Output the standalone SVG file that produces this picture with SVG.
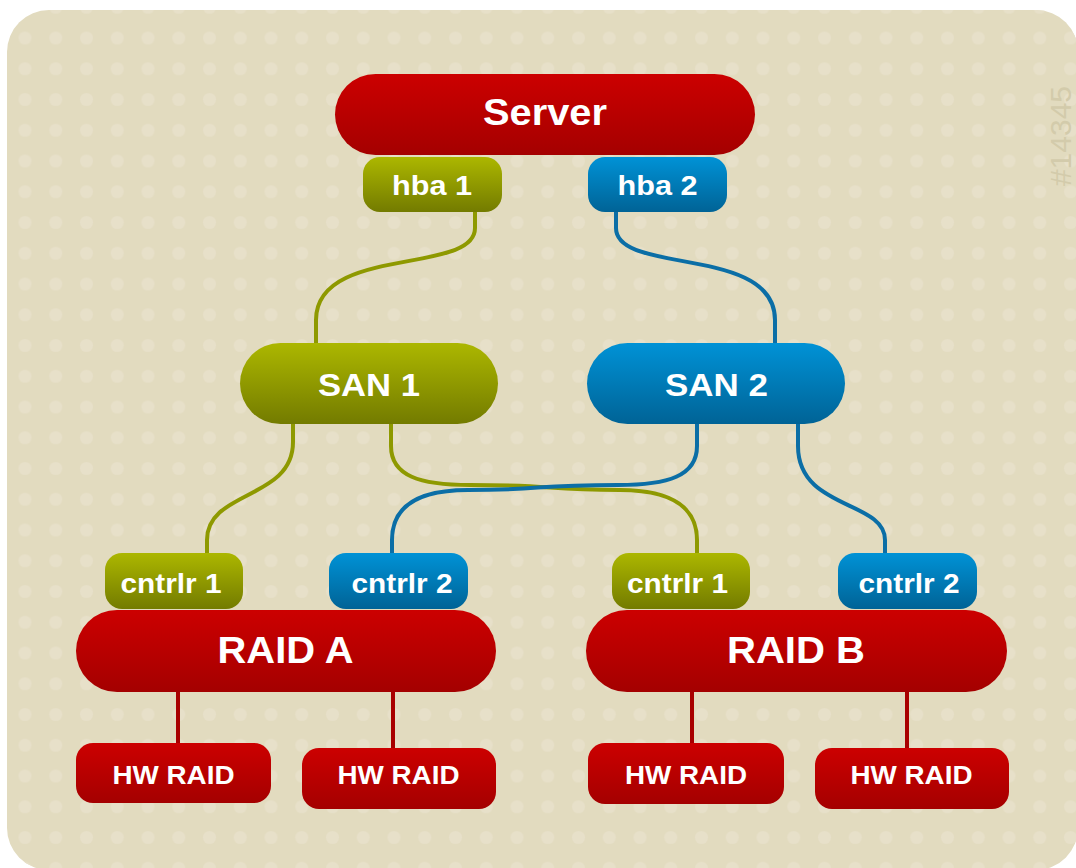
<svg xmlns="http://www.w3.org/2000/svg" width="1076" height="868" viewBox="0 0 1076 868">
  <defs>
    <linearGradient id="gRed" x1="0" y1="0" x2="0" y2="1">
      <stop offset="0" stop-color="#cc0000"/>
      <stop offset="1" stop-color="#a40000"/>
    </linearGradient>
    <linearGradient id="gGreen" x1="0" y1="0" x2="0" y2="1">
      <stop offset="0" stop-color="#acb700"/>
      <stop offset="1" stop-color="#737b00"/>
    </linearGradient>
    <linearGradient id="gBlue" x1="0" y1="0" x2="0" y2="1">
      <stop offset="0" stop-color="#0092d6"/>
      <stop offset="1" stop-color="#006396"/>
    </linearGradient>
    <pattern id="dots" x="9.625" y="22.625" width="30.75" height="30.75" patternUnits="userSpaceOnUse">
      <circle cx="15.375" cy="15.375" r="6.5" fill="#e7e0c9"/>
    </pattern>
  </defs>
  <style>
    .red { fill: url(#gRed); }
    .green { fill: url(#gGreen); }
    .blue { fill: url(#gBlue); }
    .lbl { font-family: "Liberation Sans", Arial, sans-serif; font-weight: bold; fill: #ffffff; text-anchor: middle; }
    .big { font-size: 37px; }
    .mid { font-size: 32px; }
    .sm { font-size: 28px; }
    .hw { font-size: 25px; }
    .cg { fill: none; stroke: #8e9900; stroke-width: 4; }
    .cb { fill: none; stroke: #0b6ea6; stroke-width: 4; }
    .cr { fill: none; stroke: #a80000; stroke-width: 4; }
  </style>

  <rect x="0" y="0" width="1076" height="868" fill="#ffffff"/>
  <rect x="7" y="10" width="1071" height="860" rx="42" ry="42" fill="#e2dbbf"/>
  <rect x="7" y="10" width="1071" height="860" rx="42" ry="42" fill="url(#dots)"/>

  <text x="1071" y="136" transform="rotate(-90 1071 136)" text-anchor="middle" font-family="Liberation Sans, Arial, sans-serif" font-size="30" fill="#d3cbab">#14345</text>

  <g id="connectors">
    <path class="cg" d="M475,210 L475,228 C475,275 316,245 316,320 L316,345"/>
    <path class="cb" d="M616,210 L616,228 C616,275 775,245 775,320 L775,345"/>
    <path class="cg" d="M293,422 L293,442 C293,500 207,490 207,540 L207,555"/>
    <path class="cb" d="M798,422 L798,446 C798,510 885,500 885,540 L885,555"/>
    <path class="cg" d="M391,422 L391,446 C391,476 420,485 470,485 C560,485 540,490 620,490 C675,490 697,510 697,540 L697,555"/>
    <path class="cb" d="M697,422 L697,446 C697,476 668,485 618,485 C528,485 548,490 468,490 C413,490 392,510 392,540 L392,555"/>
    <path class="cr" d="M178,690 L178,745"/>
    <path class="cr" d="M393,690 L393,750"/>
    <path class="cr" d="M692,690 L692,745"/>
    <path class="cr" d="M907,690 L907,750"/>
  </g>

  <g id="server">
    <rect class="red" x="335" y="74" width="420" height="81" rx="40.5"/>
    <text class="lbl big" x="545" y="125" textLength="124" lengthAdjust="spacingAndGlyphs">Server</text>
  </g>
  <g id="hba1">
    <rect class="green" x="363" y="157" width="139" height="55" rx="17"/>
    <text class="lbl sm" x="432" y="195" textLength="80" lengthAdjust="spacingAndGlyphs">hba 1</text>
  </g>
  <g id="hba2">
    <rect class="blue" x="588" y="157" width="139" height="55" rx="17"/>
    <text class="lbl sm" x="657.5" y="195" textLength="80" lengthAdjust="spacingAndGlyphs">hba 2</text>
  </g>
  <g id="san1">
    <rect class="green" x="240" y="343" width="258" height="81" rx="40.5"/>
    <text class="lbl mid" x="369" y="396" textLength="102" lengthAdjust="spacingAndGlyphs">SAN 1</text>
  </g>
  <g id="san2">
    <rect class="blue" x="587" y="343" width="258" height="81" rx="40.5"/>
    <text class="lbl mid" x="716.5" y="396" textLength="103" lengthAdjust="spacingAndGlyphs">SAN 2</text>
  </g>
  <g id="cntrlr1a">
    <rect class="green" x="105" y="553" width="138" height="56" rx="17"/>
    <text class="lbl sm" x="171" y="593" textLength="101" lengthAdjust="spacingAndGlyphs">cntrlr 1</text>
  </g>
  <g id="cntrlr2a">
    <rect class="blue" x="329" y="553" width="139" height="56" rx="17"/>
    <text class="lbl sm" x="402" y="593" textLength="101" lengthAdjust="spacingAndGlyphs">cntrlr 2</text>
  </g>
  <g id="cntrlr1b">
    <rect class="green" x="612" y="553" width="138" height="56" rx="17"/>
    <text class="lbl sm" x="677.5" y="593" textLength="101" lengthAdjust="spacingAndGlyphs">cntrlr 1</text>
  </g>
  <g id="cntrlr2b">
    <rect class="blue" x="838" y="553" width="139" height="56" rx="17"/>
    <text class="lbl sm" x="909" y="593" textLength="101" lengthAdjust="spacingAndGlyphs">cntrlr 2</text>
  </g>
  <g id="raidA">
    <rect class="red" x="76" y="610" width="420" height="82" rx="41"/>
    <text class="lbl big" x="285.5" y="663" textLength="136" lengthAdjust="spacingAndGlyphs" style="font-size:36px">RAID A</text>
  </g>
  <g id="raidB">
    <rect class="red" x="586" y="610" width="421" height="82" rx="41"/>
    <text class="lbl big" x="796" y="663" textLength="138" lengthAdjust="spacingAndGlyphs" style="font-size:36px">RAID B</text>
  </g>
  <g id="hwA1">
    <rect class="red" x="76" y="743" width="195" height="60" rx="17"/>
    <text class="lbl hw" x="173.5" y="784" textLength="122" lengthAdjust="spacingAndGlyphs">HW RAID</text>
  </g>
  <g id="hwA2">
    <rect class="red" x="302" y="748" width="194" height="61" rx="17"/>
    <text class="lbl hw" x="398.5" y="784" textLength="122" lengthAdjust="spacingAndGlyphs">HW RAID</text>
  </g>
  <g id="hwB1">
    <rect class="red" x="588" y="743" width="196" height="61" rx="17"/>
    <text class="lbl hw" x="686" y="784" textLength="122" lengthAdjust="spacingAndGlyphs">HW RAID</text>
  </g>
  <g id="hwB2">
    <rect class="red" x="815" y="748" width="194" height="61" rx="17"/>
    <text class="lbl hw" x="911.5" y="784" textLength="122" lengthAdjust="spacingAndGlyphs">HW RAID</text>
  </g>
</svg>
